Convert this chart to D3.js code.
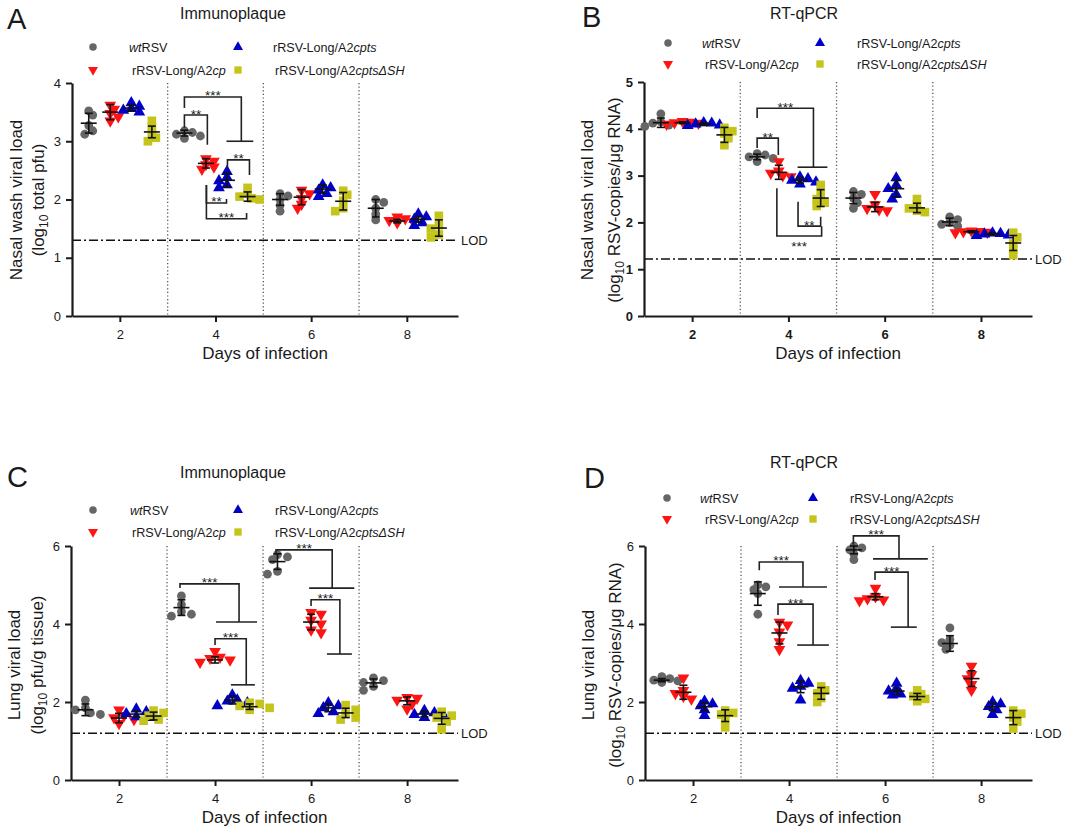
<!DOCTYPE html>
<html><head><meta charset="utf-8">
<script src="https://cdn.jsdelivr.net/npm/d3@7"></script>
<style>body{margin:0;background:#fff;} text{font-family:Arial,"Liberation Sans",sans-serif;fill:#1a1a1a;}</style>
</head><body><svg id="c" width="1080" height="833"></svg>
<script>
// ---------------- DATA ----------------
const groups = ["wtRSV", "rRSV-Long/A2cp", "rRSV-Long/A2cpts", "rRSV-Long/A2cptsΔSH"];
const legendParts = [
  [["wt", true], ["RSV", false]],
  [["rRSV-Long/A2", false], ["cp", true]],
  [["rRSV-Long/A2", false], ["cpts", true]],
  [["rRSV-Long/A2", false], ["cptsΔSH", true]]
];
const days = [2, 4, 6, 8];
const xTickValues = [2, 4, 6, 8];
const separators = [3, 5, 7];
const xTitle = "Days of infection";

// Panel A – nasal wash, immunoplaque (log10 total pfu)
const aYTicks = [0, 1, 2, 3, 4];
const aLOD = 1.3;
const aWt   = [[3.52,3.45,3.27,3.18,3.12],[3.18,3.15,3.12,3.09,3.05],[2.1,2.06,2.0,1.9,1.8],[2.0,1.95,1.85,1.75,1.65]];
const aCp   = [[3.62,3.55,3.48,3.42,3.35],[2.7,2.66,2.6,2.56,2.52],[2.16,2.1,2.02,1.92,1.85],[1.7,1.67,1.64,1.62,1.6]];
const aCpts = [[3.66,3.6,3.56,3.53,3.5],[2.48,2.38,2.32,2.25,2.2],[2.25,2.2,2.16,2.1,2.05],[1.75,1.7,1.66,1.6,1.55]];
const aSH   = [[3.35,3.25,3.14,3.06,3.0],[2.2,2.1,2.05,2.02,2.0],[2.15,2.08,1.98,1.85,1.8],[1.72,1.56,1.5,1.4,1.35]];
const aMean = [[3.31,3.14,2.0,1.85],[3.5,2.62,2.04,1.63],[3.57,2.33,2.18,1.66],[3.16,2.05,1.97,1.51]];
const aSd   = [[0.17,0.05,0.1,0.15],[0.13,0.08,0.13,0.03],[0.05,0.12,0.07,0.05],[0.1,0.08,0.15,0.14]];
// brackets: [x1, x2, yBar, yLeg1, yLeg2, label, endBarFrom, endBarTo, labelBelow]
const aBrackets = [
  [3.35, 4.54, 3.76, 3.57, 3.0, "***", 4.23, 4.79, false],
  [3.35, 3.83, 3.45, 3.23, 2.94, "**", null, null, false],
  [4.25, 4.71, 2.68, 2.54, 2.42, "**", null, null, false],
  [3.81, 4.23, 1.94, 2.25, 2.01, "**", null, null, false],
  [3.81, 4.65, 1.67, 2.25, 1.77, "***", null, null, false]
];

// Panel B – nasal wash, RT-qPCR (log10 RSV-copies/µg RNA)
const bYTicks = [0, 1, 2, 3, 4, 5];
const bLOD = 1.22;
const bWt   = [[4.32,4.15,4.12,4.08,4.05],[3.47,3.44,3.4,3.37,3.3],[2.66,2.6,2.52,2.42,2.3],[2.12,2.06,2.0,1.96,1.92]];
const bCp   = [[4.16,4.14,4.13,4.12,4.1],[3.3,3.1,3.05,3.0,2.98],[2.6,2.38,2.3,2.27,2.25],[1.82,1.81,1.8,1.79,1.78]];
const bCpts = [[4.13,4.12,4.1,4.08,4.07],[2.97,2.93,2.9,2.86,2.82],[2.95,2.8,2.72,2.6,2.5],[1.77,1.76,1.75,1.73,1.72]];
const bSH   = [[4.02,3.95,3.9,3.8,3.65],[2.8,2.6,2.5,2.42,2.35],[2.5,2.38,2.3,2.25,2.22],[1.78,1.68,1.55,1.42,1.3]];
const bMean = [[4.13,3.4,2.52,2.01],[4.13,3.07,2.33,1.8],[4.1,2.9,2.72,1.75],[3.87,2.52,2.31,1.56]];
const bSd   = [[0.1,0.06,0.12,0.08],[0.02,0.15,0.1,0.02],[0.03,0.06,0.18,0.02],[0.16,0.18,0.1,0.16]];
const bBrackets = [
  [3.35, 4.52, 4.44, 4.23, 3.18, "***", 4.19, 4.81, false],
  [3.35, 3.79, 3.80, 3.59, 3.44, "**", null, null, false],
  [3.76, 4.69, 1.71, 2.73, 1.92, "***", null, null, true],
  [4.20, 4.67, 1.92, 2.44, 2.12, "**", null, null, false]
];

// Panel C – lung, immunoplaque (log10 pfu/g tissue)
const cYTicks = [0, 2, 4, 6];
const cLOD = 1.2;
const cWt   = [[2.05,1.85,1.8,1.72,1.68],[4.72,4.5,4.32,4.25,4.2],[5.78,5.72,5.65,5.35,5.28],[2.62,2.55,2.5,2.4,2.3]];
const cCp   = [[1.8,1.65,1.6,1.55,1.45],[3.3,3.15,3.12,3.08,3.02],[4.3,4.25,4.1,4.0,3.85,3.78],[2.12,2.1,2.05,1.95,1.82]];
const cCpts = [[1.82,1.75,1.7,1.62,1.6],[2.18,2.05,2.02,1.98,1.9],[1.98,1.9,1.85,1.75,1.7],[1.78,1.72,1.68,1.62,1.6]];
const cSH   = [[1.78,1.72,1.65,1.55,1.52],[1.98,1.95,1.9,1.85,1.8],[1.92,1.8,1.7,1.6,1.55],[1.75,1.65,1.6,1.5,1.3]];
const cMean = [[1.8,4.42,5.6,2.49],[1.59,3.08,4.05,2.03],[1.69,2.05,1.85,1.69],[1.64,1.88,1.72,1.58]];
const cSd   = [[0.15,0.2,0.2,0.1],[0.12,0.08,0.2,0.1],[0.08,0.1,0.1,0.07],[0.1,0.07,0.12,0.15]];
const cBrackets = [
  [3.27, 4.50, 5.03, 4.92, 4.05, "***", 4.02, 4.875, false],
  [4.00, 4.65, 3.62, 3.46, 2.44, "***", 4.33, 4.83, false],
  [5.27, 6.44, 5.90, 5.77, 4.92, "***", 5.96, 6.90, false],
  [6.00, 6.60, 4.62, 4.46, 3.23, "***", 6.33, 6.85, false]
];

// Panel D – lung, RT-qPCR (log10 RSV-copies/µg RNA)
const dYTicks = [0, 2, 4, 6];
const dLOD = 1.2;
const dWt   = [[2.65,2.6,2.56,2.54,2.5],[5.0,4.95,4.88,4.78,4.25],[6.0,5.95,5.9,5.8,5.65],[3.9,3.6,3.52,3.45,3.35]];
const dCp   = [[2.62,2.3,2.22,2.15,2.08],[4.05,3.98,3.8,3.55,3.35],[4.92,4.7,4.65,4.62,4.6],[2.92,2.7,2.6,2.45,2.3]];
const dCpts = [[2.02,1.95,1.9,1.8,1.65],[2.55,2.48,2.4,2.35,2.05],[2.48,2.32,2.28,2.2,2.18],[2.0,1.95,1.88,1.8,1.68]];
const dSH   = [[1.78,1.72,1.68,1.55,1.35],[2.4,2.3,2.22,2.1,2.0],[2.3,2.2,2.15,2.08,2.02],[1.78,1.7,1.6,1.5,1.32]];
const dMean = [[2.56,4.78,5.9,3.5],[2.25,3.77,4.7,2.6],[1.88,2.39,2.28,1.88],[1.65,2.22,2.14,1.6]];
const dSd   = [[0.04,0.3,0.1,0.2],[0.18,0.28,0.08,0.2],[0.1,0.15,0.08,0.1],[0.15,0.15,0.08,0.18]];
const dBrackets = [
  [3.38, 4.29, 5.59, 5.38, 4.95, "***", 3.79, 4.79, false],
  [3.77, 4.50, 4.51, 4.23, 3.46, "***", 4.17, 4.83, false],
  [5.34, 6.29, 6.26, 6.03, 5.67, "***", 5.75, 6.89, false],
  [5.79, 6.48, 5.33, 5.13, 3.92, "***", 6.12, 6.66, false]
];

// ---------------- STYLE ----------------
const colors = ["#666666", "#ff1414", "#0000c8", "#c4c41a"];
const svg = d3.select("#c");

function marker(sel, gi, s) {
  if (gi === 0) {
    sel.append("circle").attr("r", 4.4 * s).attr("fill", colors[0]);
  } else if (gi === 1) {
    sel.append("path").attr("d", d3.symbol(d3.symbolTriangle, 60 * s * s)()).attr("transform", "rotate(180)").attr("fill", colors[1]);
  } else if (gi === 2) {
    sel.append("path").attr("d", d3.symbol(d3.symbolTriangle, 60 * s * s)()).attr("fill", colors[2]);
  } else {
    sel.append("rect").attr("x", -4.3 * s).attr("y", -4.3 * s).attr("width", 8.6 * s).attr("height", 8.6 * s).attr("fill", colors[3]);
  }
}

function beeswarm(ys, minDist, step) {
  const order = ys.map((v, i) => i).sort((a, b) => ys[a] - ys[b]);
  const placed = [];
  const out = new Array(ys.length);
  order.forEach((i, k) => {
    const cands = [0];
    for (let j = 1; j < 8; j++) { if (k % 2) { cands.push(j * step, -j * step); } else { cands.push(-j * step, j * step); } }
    for (const dx of cands) {
      if (placed.every(p => Math.hypot(p[0] - dx, p[1] - ys[i]) >= minDist)) {
        placed.push([dx, ys[i]]); out[i] = dx; break;
      }
    }
    if (out[i] === undefined) { out[i] = 0; placed.push([0, ys[i]]); }
  });
  return out;
}

function drawPanel(p) {
  const g = svg.append("g");
  const x = d3.scaleLinear().domain(p.xDomain).range(p.xRange);
  const y = d3.scaleLinear().domain([0, p.yTicks[p.yTicks.length - 1]]).range(p.yRange);
  const yTop = p.yRange[1], yBot = p.yRange[0];

  g.selectAll("line.sep").data(separators).join("line")
    .attr("x1", d => x(d)).attr("x2", d => x(d))
    .attr("y1", yTop).attr("y2", yBot)
    .attr("stroke", "#555").attr("stroke-width", 1.3).attr("stroke-dasharray", "1.2,2.4");

  g.append("line").attr("x1", p.xRange[0]).attr("x2", p.xRange[1])
    .attr("y1", y(p.lod)).attr("y2", y(p.lod))
    .attr("stroke", "#111").attr("stroke-width", 1.5).attr("stroke-dasharray", "9,3,2,3");
  g.append("text").text("LOD").attr("x", p.xRange[1] + 3).attr("y", y(p.lod)).attr("dy", "0.36em")
    .attr("font-size", 13);

  const ax = g.append("g").attr("transform", `translate(0,${yBot})`)
    .call(d3.axisBottom(x).tickValues(xTickValues).tickFormat(d3.format("d")).tickSize(6).tickSizeOuter(0).tickPadding(8));
  const ay = g.append("g").attr("transform", `translate(${p.xRange[0]},0)`)
    .call(d3.axisLeft(y).tickValues(p.yTicks).tickFormat(d3.format("d")).tickSize(6).tickSizeOuter(0).tickPadding(5));
  [ax, ay].forEach(a => {
    a.select(".domain").attr("stroke", "#1a1a1a").attr("stroke-width", 2.2);
    a.selectAll(".tick line").attr("stroke", "#1a1a1a").attr("stroke-width", 2);
    a.selectAll(".tick text").attr("font-size", 13).attr("fill", "#1a1a1a")
      .attr("font-family", "Arial, 'Liberation Sans', sans-serif")
      .attr("font-weight", p.boldTicks ? "bold" : "normal");
  });

  p.series.forEach((ser, gi) => {
    ser.forEach((vals, di) => {
      const cx = x(days[di] + p.offsets[gi]);
      const ys = vals.map(v => y(v));
      const dxs = beeswarm(ys, p.minDist, p.step);
      vals.forEach((v, k) => {
        const m = g.append("g").attr("transform", `translate(${cx + dxs[k]},${ys[k]})`);
        marker(m, gi, 1);
      });
    });
  });
  p.series.forEach((ser, gi) => {
    ser.forEach((vals, di) => {
      const cx = x(days[di] + p.offsets[gi]);
      const m = p.means[gi][di], s = p.sds[gi][di];
      const eb = g.append("g").attr("stroke", "#111").attr("stroke-width", 1.6);
      eb.append("line").attr("x1", cx).attr("x2", cx).attr("y1", y(m - s)).attr("y2", y(m + s));
      eb.append("line").attr("x1", cx - 4).attr("x2", cx + 4).attr("y1", y(m - s)).attr("y2", y(m - s));
      eb.append("line").attr("x1", cx - 4).attr("x2", cx + 4).attr("y1", y(m + s)).attr("y2", y(m + s));
      eb.append("line").attr("x1", cx - 8).attr("x2", cx + 8).attr("y1", y(m)).attr("y2", y(m));
    });
  });

  p.brackets.forEach(b => {
    const [x1, x2, yb, y1, y2, lab, e1, e2, below] = b;
    g.append("path")
      .attr("d", `M${x(x1)},${y(y1)}V${y(yb)}H${x(x2)}V${y(y2)}`)
      .attr("fill", "none").attr("stroke", "#222").attr("stroke-width", 1.6);
    if (e1 !== null) {
      g.append("line").attr("x1", x(e1)).attr("x2", x(e2)).attr("y1", y(y2)).attr("y2", y(y2))
        .attr("stroke", "#222").attr("stroke-width", 1.6);
    }
    g.append("text").text(lab).attr("x", (x(x1) + x(x2)) / 2)
      .attr("y", y(yb) + (below ? 15 : 3.5)).attr("text-anchor", "middle").attr("font-size", 13.5);
  });

  g.append("text").attr("transform", `translate(${p.yTitleX[0]},${p.yTitleY}) rotate(-90)`)
    .attr("text-anchor", "middle").attr("y", 6).attr("font-size", 17).text(p.yTitle1);
  const yt2 = g.append("text").attr("transform", `translate(${p.yTitleX[1]},${p.yTitleY}) rotate(-90)`)
    .attr("text-anchor", "middle").attr("y", 6).attr("font-size", 17);
  yt2.append("tspan").text("(log");
  yt2.append("tspan").text("10").attr("font-size", 12).attr("dy", 4);
  yt2.append("tspan").text(p.yTitle2).attr("dy", -4);

  g.append("text").attr("x", (p.xRange[0] + p.xRange[1]) / 2).attr("y", p.xTitleY)
    .attr("text-anchor", "middle").attr("font-size", 17).text(xTitle);

  g.append("text").attr("x", p.titleX).attr("y", p.titleY).attr("text-anchor", "middle")
    .attr("font-size", 16).text(p.title);
  g.append("text").attr("x", p.letterPos[0]).attr("y", p.letterPos[1]).attr("font-size", 29)
    .attr("fill", "#000").text(p.letter);

  groups.forEach((name, gi) => {
    const col = gi === 0 || gi === 1 ? 0 : 1;
    const row = gi === 0 || gi === 2 ? 0 : 1;
    const lx = p.legMarkerX[col], ly = p.legRowY[row];
    const m = g.append("g").attr("transform", `translate(${lx},${ly})`);
    marker(m, gi, 0.85);
    const t = g.append("text").attr("x", p.legTextX[gi]).attr("y", ly).attr("dy", "0.36em").attr("font-size", 12.6);
    legendParts[gi].forEach(([s, it]) => t.append("tspan").text(s).attr("font-style", it ? "italic" : "normal"));
  });
}

const offsetsStd = [-0.65, -0.2, 0.24, 0.67];
const offsetsC = [-0.7, 0.0, 0.36, 0.72];

drawPanel({
  xDomain: [1, 9.07], xRange: [72, 458], yTicks: aYTicks, yRange: [316, 83], lod: aLOD,
  series: [aWt, aCp, aCpts, aSH], means: aMean, sds: aSd, offsets: offsetsStd, minDist: 5.5, step: 4,
  brackets: aBrackets, boldTicks: false,
  yTitle1: "Nasal wash viral load", yTitle2: " total pfu)", yTitleX: [16, 38], yTitleY: 200,
  xTitleY: 359, title: "Immunoplaque", titleX: 233, titleY: 19, letter: "A", letterPos: [7, 29],
  legMarkerX: [93, 238], legRowY: [47, 70], legTextX: [129, 132, 273, 275]
});
drawPanel({
  xDomain: [1, 9.06], xRange: [644, 1032], yTicks: bYTicks, yRange: [316, 82], lod: bLOD,
  series: [bWt, bCp, bCpts, bSH], means: bMean, sds: bSd, offsets: offsetsStd, minDist: 5.5, step: 4,
  brackets: bBrackets, boldTicks: true,
  yTitle1: "Nasal wash viral load", yTitle2: " RSV-copies/\u03bcg RNA)", yTitleX: [587, 614], yTitleY: 200,
  xTitleY: 359, title: "RT-qPCR", titleX: 804, titleY: 19, letter: "B", letterPos: [582, 27],
  legMarkerX: [668, 820], legRowY: [43, 64], legTextX: [702, 705, 857, 857]
});
drawPanel({
  xDomain: [1, 9.06], xRange: [71, 458], yTicks: cYTicks, yRange: [780, 546], lod: cLOD,
  series: [cWt, cCp, cCpts, cSH], means: cMean, sds: cSd, offsets: offsetsC, minDist: 7, step: 5,
  brackets: cBrackets, boldTicks: false,
  yTitle1: "Lung viral load", yTitle2: " pfu/g tissue)", yTitleX: [14, 37], yTitleY: 665,
  xTitleY: 823, title: "Immunoplaque", titleX: 233, titleY: 478, letter: "C", letterPos: [7, 487],
  legMarkerX: [93, 238], legRowY: [510, 532], legTextX: [130, 132, 275, 275]
});
drawPanel({
  xDomain: [1, 9.06], xRange: [645, 1032], yTicks: dYTicks, yRange: [780, 546], lod: dLOD,
  series: [dWt, dCp, dCpts, dSH], means: dMean, sds: dSd, offsets: offsetsStd, minDist: 5.5, step: 4,
  brackets: dBrackets, boldTicks: false,
  yTitle1: "Lung viral load", yTitle2: " RSV-copies/\u03bcg RNA)", yTitleX: [588, 615], yTitleY: 665,
  xTitleY: 823, title: "RT-qPCR", titleX: 804, titleY: 468, letter: "D", letterPos: [584, 488],
  legMarkerX: [667, 813], legRowY: [498, 519], legTextX: [700, 705, 850, 850]
});
</script></body></html>
